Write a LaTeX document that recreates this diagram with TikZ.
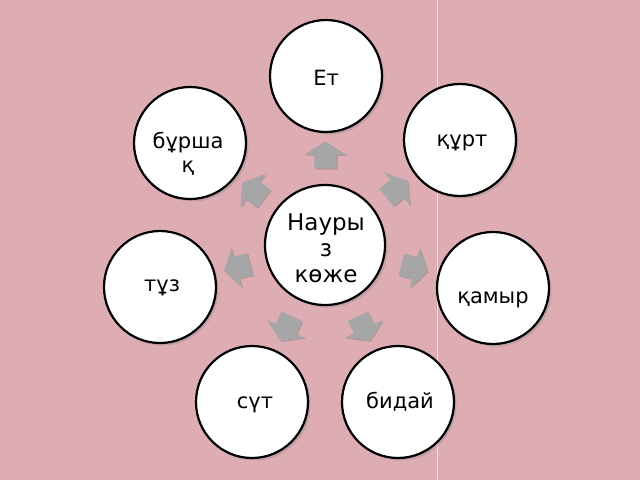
\documentclass[tikz,border=0pt]{standalone}
\usepackage{fontspec}
\setmainfont{DejaVu Sans}
\usetikzlibrary{shapes.arrows,shadows}
\definecolor{bgpink}{RGB}{221,173,179}
\definecolor{arrowgray}{RGB}{166,166,166}
\begin{document}
\begin{tikzpicture}[x=1pt,y=-1pt,
  bubble/.style={circle,draw=black,line width=2.2pt,fill=white,inner sep=0pt,minimum size=#1,
     drop shadow={shadow xshift=2.5pt,shadow yshift=-2.5pt,opacity=0.3}},
  bubble/.default=112pt,
  lbl/.style={font=\fontsize{21}{24}\selectfont,align=center,inner sep=0pt},
  bigl/.style={font=\fontsize{23}{26}\selectfont,align=center,inner sep=0pt},
  blockarrow/.style={single arrow,fill=arrowgray,draw=none,inner xsep=0pt,inner ysep=11pt,
     minimum height=27pt,minimum width=41pt,single arrow head extend=9.5pt,
     single arrow tip angle=115,sloped,allow upside down,pos=0.5,
     drop shadow={shadow xshift=1.2pt,shadow yshift=-1.2pt,opacity=0.45}},
  ]
\fill[bgpink] (0,0) rectangle (640,480);
\useasboundingbox (0,0) rectangle (640,480);
\draw[white,opacity=0.6,line width=1pt] (437,0) -- (437,480);

\node[bubble=120pt] (cen) at (325,245) {};
\node[bubble] (et) at (326,76) {};
\node[bubble] (qurt) at (460,140) {};
\node[bubble] (burshaq) at (190,143) {};
\node[bubble] (tuz) at (160,287) {};
\node[bubble] (qamyr) at (493,288) {};
\node[bubble] (sut) at (252,402) {};
\node[bubble] (bidai) at (398,402) {};

\path (cen) -- node[blockarrow] (a1) {} (et);
\path (cen) -- node[blockarrow] (a2) {} (qurt);
\path (cen) -- node[blockarrow] (a3) {} (qamyr);
\path (cen) -- node[blockarrow] (a4) {} (bidai);
\path (cen) -- node[blockarrow] (a5) {} (sut);
\path (cen) -- node[blockarrow] (a6) {} (tuz);
\path (cen) -- node[blockarrow] (a7) {} (burshaq);

\node[bigl] (tcen) at (326,248) {Науры\\з\\көже};
\node[lbl] (tet) at (326,78) {Ет};
\node[lbl] (tqurt) at (462,143) {құрт};
\node[lbl] (tburshaq) at (188,154) {бұрша\\қ};
\node[lbl] (ttuz) at (162,288) {тұз};
\node[lbl] (tqamyr) at (493,300) {қамыр};
\node[lbl] (tsut) at (255,405) {сүт};
\node[lbl] (tbidai) at (400,402) {бидай};
\end{tikzpicture}
\end{document}
